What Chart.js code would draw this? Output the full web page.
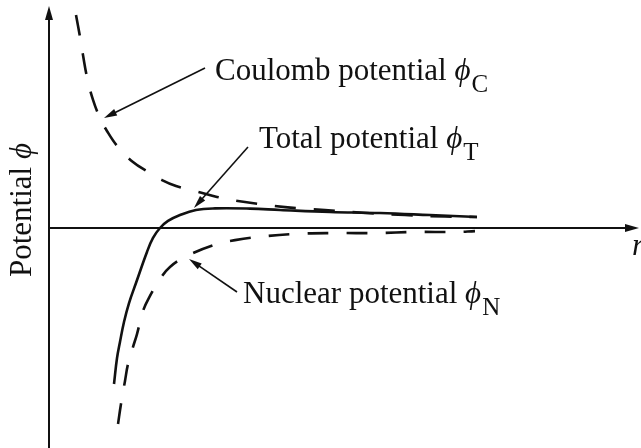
<!DOCTYPE html>
<html>
  <head>
    <title>Potential vs r</title>
    <script src="https://cdn.jsdelivr.net/npm/chart.js"></script>
    <style>
      body { margin: 0; background: #fff; }
      .chart-container { width: 641px; height: 448px; }
    </style>
  </head>
  <body>
    <div class="chart-container">
      <canvas id="potential-chart"></canvas>
    </div>

    <script>
      // Coulomb potential (dashed, repulsive)
      const coulombR   = [0.457, 0.525, 0.575, 0.643, 0.745, 0.863, 0.981, 1.168, 1.421, 1.675, 1.912, 2.149, 2.470, 2.843, 3.316, 3.993, 4.670, 5.364, 6.024, 6.701, 7.242];
      const coulombPhi = [0.968, 0.868, 0.786, 0.686, 0.582, 0.500, 0.441, 0.368, 0.300, 0.255, 0.218, 0.191, 0.168, 0.141, 0.118, 0.095, 0.082, 0.068, 0.059, 0.052, 0.050];

      // Total potential (solid)
      const totalR   = [1.100, 1.151, 1.201, 1.269, 1.354, 1.472, 1.658, 1.760, 1.878, 2.014, 2.217, 2.487, 2.809, 3.401, 3.909, 4.755, 5.601, 6.447, 7.242];
      const totalPhi = [-0.709, -0.591, -0.518, -0.427, -0.341, -0.250, -0.109, -0.045, 0.000, 0.032, 0.059, 0.082, 0.089, 0.088, 0.082, 0.073, 0.068, 0.059, 0.050];

      // Nuclear potential (dashed, attractive)
      const nuclearR   = [1.168, 1.218, 1.286, 1.337, 1.421, 1.489, 1.591, 1.709, 1.878, 2.047, 2.335, 2.843, 3.147, 3.519, 4.162, 4.839, 5.550, 6.193, 6.870, 7.208];
      const nuclearPhi = [-0.891, -0.800, -0.695, -0.618, -0.541, -0.482, -0.377, -0.309, -0.232, -0.177, -0.127, -0.073, -0.055, -0.041, -0.027, -0.023, -0.023, -0.018, -0.018, -0.014];

      // Callout labels: text, subscript, arrow tip / tail and text anchor in data units
      const callouts = [
        { text: 'Coulomb potential ', sub: 'C', tip: [0.931, 0.500],  tail: [2.640, 0.727],  at: [2.809, 0.673] },
        { text: 'Total potential ',   sub: 'T', tip: [2.453, 0.091],  tail: [3.367, 0.368],  at: [3.553, 0.364] },
        { text: 'Nuclear potential ', sub: 'N', tip: [2.369, -0.141], tail: [3.181, -0.291], at: [3.283, -0.341] }
      ];

      const INK = '#111';
      const SERIF = '"Liberation Serif", "Times New Roman", serif';

      function toPoints(xs, ys) {
        return xs.map((x, i) => ({ x: x, y: ys[i] }));
      }

      function arrowHead(ctx, x0, y0, x1, y1, len, half) {
        const a = Math.atan2(y1 - y0, x1 - x0);
        ctx.beginPath();
        ctx.moveTo(x1, y1);
        ctx.lineTo(x1 - len * Math.cos(a) + half * Math.sin(a), y1 - len * Math.sin(a) - half * Math.cos(a));
        ctx.lineTo(x1 - len * Math.cos(a) - half * Math.sin(a), y1 - len * Math.sin(a) + half * Math.cos(a));
        ctx.closePath();
        ctx.fill();
      }

      function drawPhiLabel(ctx, x, y, text, sub) {
        ctx.font = '31px ' + SERIF;
        ctx.fillText(text, x, y);
        x += ctx.measureText(text).width;
        ctx.font = 'italic 31px ' + SERIF;
        ctx.fillText('\u03D5', x, y);
        x += ctx.measureText('\u03D5').width + 1;
        ctx.font = '25px ' + SERIF;
        ctx.fillText(sub, x, y + 12);
      }

      // axes with arrows, axis labels and the callouts
      const figurePlugin = {
        id: 'figure',
        beforeDraw(chart) {
          const ctx = chart.ctx;
          ctx.save();
          ctx.fillStyle = '#fff';
          ctx.fillRect(0, 0, chart.width, chart.height);
          ctx.restore();
        },
        afterDatasetsDraw(chart) {
          const ctx = chart.ctx;
          const xs = chart.scales.x, ys = chart.scales.y;
          const ox = xs.getPixelForValue(0), oy = ys.getPixelForValue(0);
          ctx.save();
          ctx.strokeStyle = INK;
          ctx.fillStyle = INK;

          // y axis
          ctx.lineWidth = 2;
          ctx.beginPath();
          ctx.moveTo(ox, chart.height);
          ctx.lineTo(ox, 14);
          ctx.stroke();
          arrowHead(ctx, ox, 40, ox, 6, 14, 4);

          // x axis
          ctx.beginPath();
          ctx.moveTo(ox, oy);
          ctx.lineTo(632, oy);
          ctx.stroke();
          arrowHead(ctx, ox, oy, 639, oy, 14, 4);

          // r label (runs off the right edge)
          ctx.font = 'italic 31px ' + SERIF;
          ctx.textBaseline = 'alphabetic';
          ctx.fillText('r', 632, 255);

          // vertical axis title
          ctx.save();
          ctx.translate(31, 210);
          ctx.rotate(-Math.PI / 2);
          const title = 'Potential ';
          ctx.font = '31px ' + SERIF;
          const w1 = ctx.measureText(title).width;
          ctx.font = 'italic 31px ' + SERIF;
          const w2 = ctx.measureText('\u03D5').width;
          ctx.font = '31px ' + SERIF;
          ctx.fillText(title, -(w1 + w2) / 2, 0);
          ctx.font = 'italic 31px ' + SERIF;
          ctx.fillText('\u03D5', -(w1 + w2) / 2 + w1, 0);
          ctx.restore();

          // callouts
          ctx.lineWidth = 1.6;
          callouts.forEach(c => {
            const tx = xs.getPixelForValue(c.tip[0]), ty = ys.getPixelForValue(c.tip[1]);
            const sx = xs.getPixelForValue(c.tail[0]), sy = ys.getPixelForValue(c.tail[1]);
            const a = Math.atan2(ty - sy, tx - sx);
            ctx.beginPath();
            ctx.moveTo(sx, sy);
            ctx.lineTo(tx - 8 * Math.cos(a), ty - 8 * Math.sin(a));
            ctx.stroke();
            arrowHead(ctx, sx, sy, tx, ty, 13, 3.5);
            drawPhiLabel(ctx, xs.getPixelForValue(c.at[0]), ys.getPixelForValue(c.at[1]), c.text, c.sub);
          });
          ctx.restore();
        }
      };

      const lineStyle = {
        borderColor: INK,
        borderWidth: 2.6,
        pointRadius: 0,
        fill: false,
        tension: 0.4
      };

      new Chart(document.getElementById('potential-chart'), {
        type: 'line',
        data: {
          datasets: [
            Object.assign({ label: 'Coulomb potential', data: toPoints(coulombR, coulombPhi), borderDash: [21, 18] }, lineStyle),
            Object.assign({ label: 'Total potential', data: toPoints(totalR, totalPhi) }, lineStyle),
            Object.assign({ label: 'Nuclear potential', data: toPoints(nuclearR, nuclearPhi), borderDash: [21, 18] }, lineStyle)
          ]
        },
        options: {
          responsive: true,
          maintainAspectRatio: false,
          animation: false,
          layout: { padding: { left: 49, right: 1, top: 8, bottom: 0 } },
          scales: {
            x: { type: 'linear', display: false, min: 0, max: 10 },
            y: { type: 'linear', display: false, min: -1, max: 1 }
          },
          plugins: {
            legend: { display: false },
            tooltip: { enabled: false }
          }
        },
        plugins: [figurePlugin]
      });
    </script>
  </body>
</html>
